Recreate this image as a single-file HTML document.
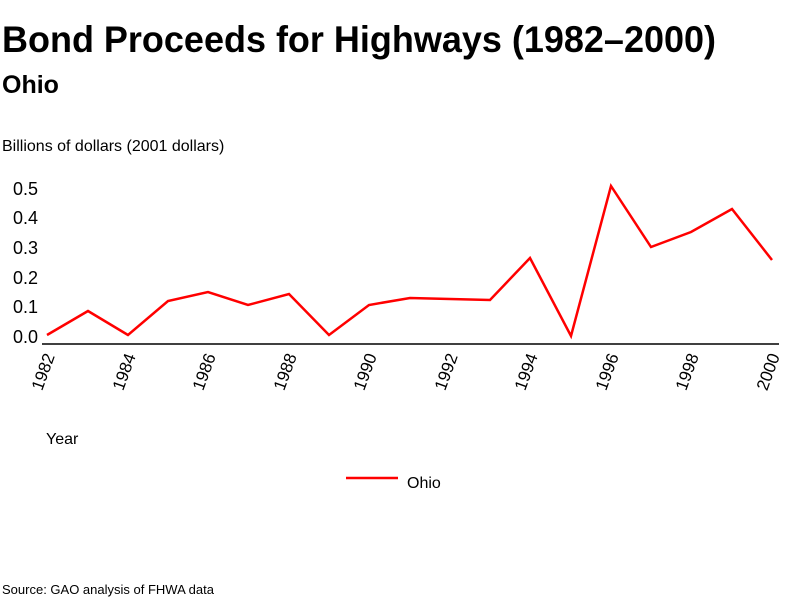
<!DOCTYPE html>
<html><head><style>
body{margin:0;background:#fff;width:800px;height:600px;overflow:hidden}
svg text{font-family:"Liberation Sans",sans-serif;fill:#000}
</style></head><body>
<svg width="800" height="600" xmlns="http://www.w3.org/2000/svg">
<text x="2" y="52" font-size="37" font-weight="bold" textLength="714" lengthAdjust="spacingAndGlyphs">Bond Proceeds for Highways (1982–2000)</text>
<text x="2" y="93" font-size="25" font-weight="bold">Ohio</text>
<text x="2" y="151" font-size="16">Billions of dollars (2001 dollars)</text>
<g font-size="18" text-anchor="end">
<text x="38" y="343">0.0</text><text x="38" y="313">0.1</text><text x="38" y="284">0.2</text>
<text x="38" y="254">0.3</text><text x="38" y="224">0.4</text><text x="38" y="195">0.5</text>
</g>
<line x1="42" y1="344" x2="779" y2="344" stroke="#000" stroke-width="1.5"/>
<g font-size="17" text-anchor="end">
<text transform="translate(55,356) rotate(-70)">1982</text>
<text transform="translate(136,356) rotate(-70)">1984</text>
<text transform="translate(216,356) rotate(-70)">1986</text>
<text transform="translate(297,356) rotate(-70)">1988</text>
<text transform="translate(377,356) rotate(-70)">1990</text>
<text transform="translate(458,356) rotate(-70)">1992</text>
<text transform="translate(538,356) rotate(-70)">1994</text>
<text transform="translate(619,356) rotate(-70)">1996</text>
<text transform="translate(699,356) rotate(-70)">1998</text>
<text transform="translate(780,356) rotate(-70)">2000</text>
</g>
<polyline fill="none" stroke="#f00" stroke-width="2.5" points="47,335 88,311 128,335 168,301 208,292 248,305 289,294 329,335 369,305 410,298 450,299 490,300 530,258 571,336 611,186 651,247 691,232 732,209 772,260"/>
<text x="46" y="444" font-size="16">Year</text>
<line x1="346" y1="478" x2="398" y2="478" stroke="#f00" stroke-width="2.5"/>
<text x="407" y="488" font-size="16">Ohio</text>
<text x="2" y="594" font-size="13">Source: GAO analysis of FHWA data</text>
</svg>
</body></html>
